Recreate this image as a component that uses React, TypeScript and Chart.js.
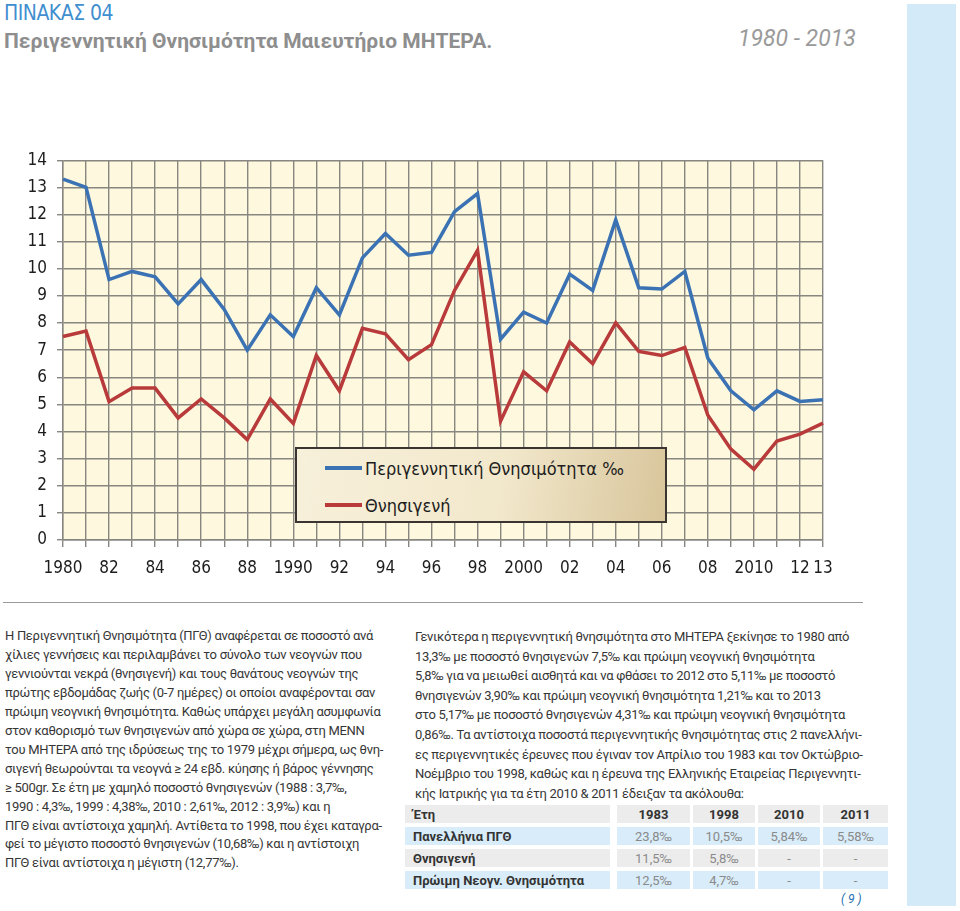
import React, { useEffect, useRef } from 'react';
import { Chart, registerables } from 'chart.js';

Chart.register(...registerables);

const years = ['1980','1981','1982','1983','1984','1985','1986','1987','1988','1989','1990','1991','1992','1993','1994','1995','1996','1997','1998','1999','2000','2001','2002','2003','2004','2005','2006','2007','2008','2009','2010','2011','2012','2013'];
const perinatalRate = [13.3,13.0,9.6,9.9,9.7,8.7,9.6,8.5,7.0,8.3,7.5,9.3,8.3,10.4,11.3,10.5,10.6,12.1,12.77,7.4,8.4,8.0,9.8,9.2,11.8,9.3,9.25,9.9,6.7,5.5,4.8,5.5,5.11,5.17];
const stillbirthRate = [7.5,7.7,5.1,5.6,5.6,4.5,5.2,4.5,3.7,5.2,4.3,6.8,5.5,7.8,7.6,6.65,7.2,9.2,10.68,4.38,6.2,5.5,7.3,6.5,8.0,6.95,6.8,7.1,4.6,3.35,2.61,3.65,3.9,4.31];
const xTickYears = ['1980','1982','1984','1986','1988','1990','1992','1994','1996','1998','2000','2002','2004','2006','2008','2010','2012','2013'];
const xTickLabels = ['1980','82','84','86','88','1990','92','94','96','98','2000','02','04','06','08','2010','12','13'];
const seriesNames = ['Περιγεννητική Θνησιμότητα ‰', 'Θνησιγενή'];
const seriesColors = ['#3b72b4', '#b83a3a'];

const tableHeader = ['Έτη', '1983', '1998', '2010', '2011'];
const tableRowLabels = ['Πανελλήνια ΠΓΘ', 'Θνησιγενή', 'Πρώιμη Νεογν. Θνησιμότητα'];
const tableRow1 = ['23,8‰', '10,5‰', '5,84‰', '5,58‰'];
const tableRow2 = ['11,5‰', '5,8‰', '-', '-'];
const tableRow3 = ['12,5‰', '4,7‰', '-', '-'];

const leftParagraph = [
  'Η Περιγεννητική Θνησιμότητα (ΠΓΘ) αναφέρεται σε ποσοστό ανά',
  'χίλιες γεννήσεις και περιλαμβάνει το σύνολο των νεογνών που',
  'γεννιούνται νεκρά (θνησιγενή) και τους θανάτους νεογνών της',
  'πρώτης εβδομάδας ζωής (0-7 ημέρες) οι οποίοι αναφέρονται σαν',
  'πρώιμη νεογνική θνησιμότητα. Καθώς υπάρχει μεγάλη ασυμφωνία',
  'στον καθορισμό των θνησιγενών από χώρα σε χώρα, στη ΜΕΝΝ',
  'του ΜΗΤΕΡΑ από της ιδρύσεως της το 1979 μέχρι σήμερα, ως θνη-',
  'σιγενή θεωρούνται τα νεογνά ≥ 24 εβδ. κύησης ή βάρος γέννησης',
  '≥ 500gr. Σε έτη με χαμηλό ποσοστό θνησιγενών (1988 : 3,7‰,',
  '1990 : 4,3‰, 1999 : 4,38‰, 2010 : 2,61‰, 2012 : 3,9‰) και η',
  'ΠΓΘ είναι αντίστοιχα χαμηλή. Αντίθετα το 1998, που έχει καταγρα-',
  'φεί το μέγιστο ποσοστό θνησιγενών (10,68‰) και η αντίστοιχη',
  'ΠΓΘ είναι αντίστοιχα η μέγιστη (12,77‰).',
];
const rightParagraph = [
  'Γενικότερα η περιγεννητική θνησιμότητα στο ΜΗΤΕΡΑ ξεκίνησε το 1980 από',
  '13,3‰ με ποσοστό θνησιγενών 7,5‰ και πρώιμη νεογνική θνησιμότητα',
  '5,8‰ για να μειωθεί αισθητά και να φθάσει το 2012 στο 5,11‰ με ποσοστό',
  'θνησιγενών 3,90‰ και πρώιμη νεογνική θνησιμότητα 1,21‰ και το 2013',
  'στο 5,17‰ με ποσοστό θνησιγενών 4,31‰ και πρώιμη νεογνική θνησιμότητα',
  '0,86‰. Τα αντίστοιχα ποσοστά περιγεννητικής θνησιμότητας στις 2 πανελλήνι-',
  'ες περιγεννητικές έρευνες που έγιναν τον Απρίλιο του 1983 και τον Οκτώβριο-',
  'Νοέμβριο του 1998, καθώς και η έρευνα της Ελληνικής Εταιρείας Περιγεννητι-',
  'κής Ιατρικής για τα έτη 2010 & 2011 έδειξαν τα ακόλουθα:',
];

const NARROW = "'Liberation Sans Narrow', 'DejaVu Sans Condensed', 'Arial Narrow', sans-serif";
const BODY = "Roboto, 'Noto Sans', sans-serif";

const plotBg = {
  id: 'plotBg',
  beforeDraw(chart: any) {
    const { ctx, chartArea } = chart;
    if (!chartArea) return;
    ctx.save();
    ctx.fillStyle = '#fdf8de';
    ctx.fillRect(chartArea.left, chartArea.top, chartArea.right - chartArea.left, chartArea.bottom - chartArea.top);
    ctx.restore();
  },
};

function LineChart() {
  const ref = useRef<HTMLCanvasElement | null>(null);
  useEffect(() => {
    if (!ref.current) return;
    const chart = new Chart(ref.current, {
      type: 'line',
      data: {
        labels: years,
        datasets: [
          { label: seriesNames[0], data: perinatalRate, borderColor: seriesColors[0], borderWidth: 3.5, pointRadius: 0, tension: 0, fill: false },
          { label: seriesNames[1], data: stillbirthRate, borderColor: seriesColors[1], borderWidth: 3.5, pointRadius: 0, tension: 0, fill: false },
        ],
      },
      options: {
        animation: false,
        responsive: false,
        maintainAspectRatio: false,
        layout: { padding: { top: 17, right: 47, left: 0, bottom: 0 } },
        plugins: { legend: { display: false }, tooltip: { enabled: false } },
        scales: {
          x: {
            type: 'category',
            grid: { color: '#878680', lineWidth: 1.4, drawTicks: true, tickLength: 7, tickColor: '#878680' },
            border: { color: '#878680', width: 1.4 },
            ticks: {
              autoSkip: false,
              maxRotation: 0,
              minRotation: 0,
              padding: 11,
              color: '#1d1d1d',
              font: { family: NARROW, size: 17 },
              callback: (_v: any, idx: number) => {
                const i = xTickYears.indexOf(years[idx]);
                return i >= 0 ? xTickLabels[i] : '';
              },
            },
            afterFit: (s: any) => { s.height = 50; },
          },
          y: {
            min: 0,
            max: 14,
            grid: { color: '#878680', lineWidth: 1.4, drawTicks: true, tickLength: 6, tickColor: '#878680' },
            border: { color: '#878680', width: 1.4 },
            ticks: { stepSize: 1, padding: 10, color: '#1d1d1d', font: { family: NARROW, size: 17 } },
            afterFit: (s: any) => { s.width = 63; },
          },
        },
      },
      plugins: [plotBg],
    });
    return () => chart.destroy();
  }, []);
  return <canvas ref={ref} width={870} height={450} style={{ position: 'absolute', left: 0, top: 140, width: 870, height: 450 }} />;
}

export default function App() {
  const colX = [405, 617, 693, 758, 823];
  const colW = [205, 73, 62, 62, 65];
  const rowY = [805, 827, 849, 871];
  const rowBg = ['#ececec', '#d8ecf9', '#ececec', '#d8ecf9'];
  const rows = [tableHeader, [tableRowLabels[0], ...tableRow1], [tableRowLabels[1], ...tableRow2], [tableRowLabels[2], ...tableRow3]];
  const para = { fontSize: 13, letterSpacing: -0.3, lineHeight: '19px', color: '#363636', whiteSpace: 'nowrap' as const };
  return (
    <div style={{ position: 'absolute', left: 0, top: 0, width: 960, height: 911, background: '#fff', overflow: 'hidden', fontFamily: BODY }}>
      <div style={{ position: 'absolute', left: 907, top: 4, width: 49, height: 902, background: '#d3ebf9' }} />
      <div style={{ position: 'absolute', left: 4, top: 1, fontFamily: NARROW, fontSize: 21, color: '#3f8fd0', letterSpacing: -0.5 }}>ΠΙΝΑΚΑΣ 04</div>
      <div style={{ position: 'absolute', left: 4, top: 29, fontFamily: BODY, fontWeight: 700, fontSize: 21, color: '#8e8e8e', whiteSpace: 'nowrap' }}>Περιγεννητική Θνησιμότητα Μαιευτήριο ΜΗΤΕΡΑ.</div>
      <div style={{ position: 'absolute', left: 738, top: 25, fontFamily: BODY, fontStyle: 'italic', fontSize: 23, color: '#9a9a9a', whiteSpace: 'nowrap' }}>1980 - 2013</div>

      <LineChart />

      <div style={{ position: 'absolute', left: 295, top: 447, width: 368, height: 72, border: '2px solid #3a3530', background: 'linear-gradient(100deg, #f7f0da 0%, #f2e8cc 55%, #d8c59b 100%)' }}>
        {seriesNames.map((n, i) => (
          <div key={n} style={{ position: 'absolute', left: 28, top: 8 + i * 37, height: 22, display: 'flex', alignItems: 'center', fontFamily: NARROW, fontSize: 18, color: '#1d1d1d', whiteSpace: 'nowrap' }}>
            <span style={{ display: 'inline-block', width: 37, height: 4, background: seriesColors[i], marginRight: 3 }} />
            {n}
          </div>
        ))}
      </div>

      <div style={{ position: 'absolute', left: 3, top: 602, width: 860, height: 1, background: '#9a9a9a' }} />

      {leftParagraph.map((l, i) => (
        <div key={i} style={{ ...para, position: 'absolute', left: 5, top: 626 + i * 18.95 }}>{l}</div>
      ))}
      {rightParagraph.map((l, i) => (
        <div key={i} style={{ ...para, position: 'absolute', left: 415, top: 627 + i * 19.6 }}>{l}</div>
      ))}

      {rows.map((r, ri) => r.map((c, ci) => (
        <div key={ri + '-' + ci} style={{
          position: 'absolute', left: colX[ci], top: rowY[ri], width: colW[ci], height: 18, background: rowBg[ri],
          display: 'flex', alignItems: 'center', justifyContent: ci === 0 ? 'flex-start' : 'center',
          paddingLeft: ci === 0 ? 8 : 0, boxSizing: 'border-box',
          fontSize: 13, fontWeight: ri === 0 || ci === 0 ? 700 : 400,
          color: ri === 0 || ci === 0 ? '#333' : '#8a8a8a', whiteSpace: 'nowrap',
        }}>{c}</div>
      )))}

      <div style={{ position: 'absolute', left: 841, top: 892, fontSize: 12, fontStyle: 'italic', color: '#1f6fb3', whiteSpace: 'nowrap' }}>( 9 )</div>
    </div>
  );
}
